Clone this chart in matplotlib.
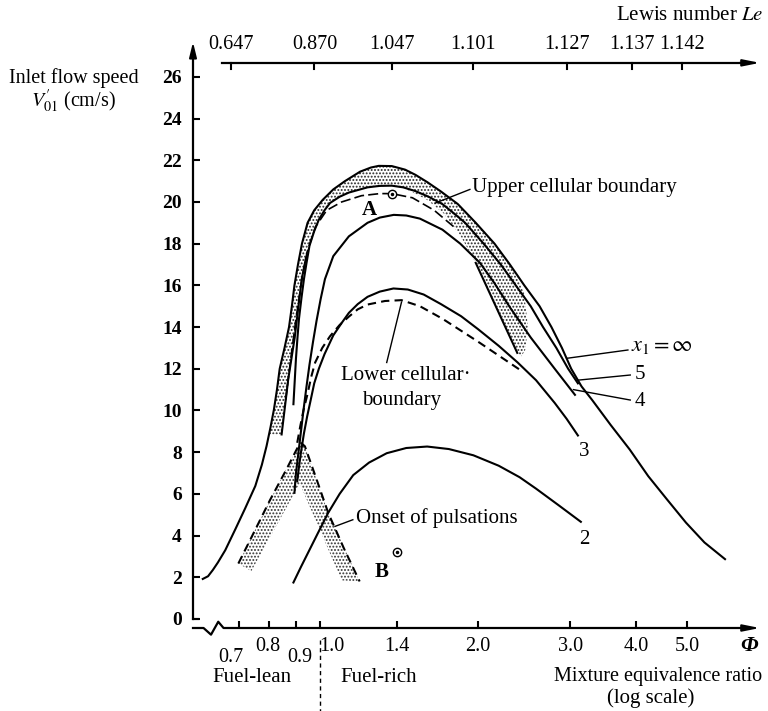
import matplotlib
matplotlib.use("Agg")
import matplotlib.pyplot as plt
from matplotlib.ticker import NullLocator

# ---- values (phi = equivalence ratio, v = inlet speed cm/s)
phi_inf = [0.598, 0.612, 0.625, 0.639, 0.66, 0.69, 0.72, 0.753, 0.775, 0.791,
           0.805, 0.817, 0.828, 0.838, 0.856, 0.873, 0.884, 0.894, 0.908, 0.924,
           0.947, 0.975, 1.012, 1.06, 1.116, 1.192, 1.25, 1.294, 1.37, 1.452,
           1.52, 1.601, 1.70, 1.83, 1.98, 2.15, 2.30, 2.45, 2.62, 2.76, 2.89,
           3.01, 3.15, 3.30, 3.58, 3.89, 4.22, 4.58, 4.98, 5.40, 5.91]
v_inf = [1.92, 2.05, 2.35, 2.71, 3.3, 4.31, 5.3, 6.38, 7.4, 8.29,
         9.2, 10.04, 11.0, 12.0, 13.0, 14.0, 15.0, 16.0, 17.0, 18.0,
         19.0, 19.6, 20.1, 20.6, 21.0, 21.45, 21.65, 21.73, 21.72, 21.55,
         21.3, 20.95, 20.5, 19.9, 19.0, 18.0, 17.0, 16.0, 15.0, 14.0, 13.0,
         12.0, 11.15, 10.5, 9.3, 8.13, 6.85, 5.74, 4.62, 3.67, 2.87]

phi_5 = [0.89, 0.895, 0.90, 0.906, 0.912, 0.922, 0.932, 0.943, 0.955, 0.975,
         0.995, 1.02, 1.045, 1.09, 1.135, 1.232, 1.30, 1.37, 1.44, 1.52,
         1.61, 1.71, 1.80, 1.89, 2.05, 2.21, 2.36, 2.52, 2.66, 2.82, 2.97, 3.10]
v_5 = [10.3, 11.4, 12.5, 13.5, 14.4, 15.4, 16.3, 17.1, 17.9, 18.6,
       19.15, 19.6, 19.95, 20.25, 20.45, 20.7, 20.77, 20.78, 20.7, 20.52,
       20.25, 19.9, 19.45, 19.0, 18.0, 17.0, 16.0, 15.0, 14.0, 13.0, 12.0, 11.3]

phi_4 = [0.894, 0.90, 0.91, 0.92, 0.93, 0.942, 0.955, 0.97, 0.985, 1.003,
         1.022, 1.06, 1.135, 1.232, 1.30, 1.382, 1.46, 1.55, 1.711, 1.85,
         2.017, 2.15, 2.30, 2.52, 2.80, 3.06]
v_4 = [6.05, 7.0, 8.0, 9.0, 10.0, 11.1, 12.2, 13.3, 14.3, 15.35,
       16.3, 17.4, 18.35, 19.0, 19.25, 19.38, 19.35, 19.2, 18.67, 18.0,
       17.08, 16.1, 14.95, 13.5, 12.0, 10.75]

phi_3 = [0.905, 0.912, 0.92, 0.932, 0.945, 0.96, 0.975, 0.995, 1.02, 1.06,
         1.10, 1.135, 1.18, 1.232, 1.30, 1.38, 1.47, 1.576, 1.70, 1.857,
         2.0, 2.19, 2.38, 2.58, 2.80, 2.95, 3.10]
v_3 = [6.6, 7.3, 8.0, 8.9, 9.7, 10.5, 11.3, 12.0, 12.7, 13.6,
       14.2, 14.68, 15.1, 15.45, 15.7, 15.85, 15.8, 15.56, 15.1, 14.52,
       13.9, 13.1, 12.3, 11.45, 10.36, 9.6, 8.8]

phi_2 = [0.89, 0.92, 0.95, 0.99, 1.037, 1.09, 1.157, 1.24, 1.34, 1.46,
         1.6, 1.76, 1.96, 2.19, 2.40, 2.58, 2.85, 3.14]
v_2 = [1.75, 2.5, 3.2, 4.1, 5.1, 6.0, 6.9, 7.5, 7.95, 8.2,
       8.27, 8.15, 7.85, 7.35, 6.8, 6.25, 5.45, 4.66]

# lower cellular boundary (dashed)
phi_low = [0.905, 0.917, 0.93, 0.947, 0.962, 0.979, 1.01, 1.045, 1.09, 1.135,
           1.18, 1.232, 1.33, 1.43, 1.55, 1.711, 1.85, 2.0, 2.2, 2.42]
v_low = [8.45, 9.24, 10.0, 10.8, 11.6, 12.3, 13.0, 13.56, 14.1, 14.5,
         14.85, 15.08, 15.25, 15.29, 15.0, 14.4, 13.85, 13.3, 12.6, 11.9]

# upper cellular boundary, experimental dashes
phi_up = [0.86, 0.88, 0.90, 0.92, 0.945, 0.98, 1.03, 1.1, 1.2, 1.3, 1.37, 1.5, 1.65, 1.8]
v_up = [10.5, 12.5, 14.4, 16.0, 17.6, 18.8, 19.6, 20.0, 20.3, 20.4, 20.4, 20.2, 19.6, 18.8]

# stippled band of the upper cellular boundary
band_phi = [0.80, 0.805, 0.817, 0.828, 0.838, 0.856, 0.873, 0.884, 0.894, 0.908,
            0.924, 0.947, 0.975, 1.012, 1.06, 1.116, 1.192, 1.25, 1.294, 1.37,
            1.452, 1.52, 1.601, 1.70, 1.83, 1.98, 2.15, 2.30, 2.37, 2.45,
            2.49, 2.46, 2.42, 2.376, 2.2, 1.98, 1.85, 1.72, 1.60, 1.45,
            1.37, 1.232, 1.135, 1.045, 0.995, 0.955, 0.94, 0.923, 0.895, 0.87,
            0.845]
band_v = [8.85, 9.2, 10.04, 11.0, 12.0, 13.0, 14.0, 15.0, 16.0, 17.0,
          18.0, 19.0, 19.6, 20.1, 20.6, 21.0, 21.45, 21.65, 21.73, 21.72,
          21.55, 21.3, 20.95, 20.5, 19.9, 19.0, 18.0, 17.0, 16.5, 15.6,
          14.0, 12.9, 12.6, 12.76, 14.7, 17.08, 18.4, 19.45, 20.1, 20.65,
          20.78, 20.7, 20.45, 19.95, 19.15, 17.9, 17.3, 16.3, 13.5, 11.5,
          8.85]
band_edge_phi = [0.845, 0.87, 0.895, 0.923, 0.94]
band_edge_v = [8.85, 11.5, 13.5, 16.3, 17.3]
band_tail_phi = [1.98, 2.376]
band_tail_v = [17.08, 12.76]

# onset of pulsations
puls_left_phi = [0.699, 0.75, 0.803, 0.86, 0.909, 0.92]
puls_left_v = [2.66, 4.2, 5.7, 7.1, 8.28, 8.45]
puls_right_phi = [0.92, 0.936, 0.985, 1.037, 1.11, 1.19]
puls_right_v = [8.45, 8.28, 6.7, 5.08, 3.4, 1.8]
puls_band_phi = [0.699, 0.803, 0.909, 0.92, 0.936, 1.037, 1.19, 1.10, 0.915, 0.74]
puls_band_v = [2.66, 5.7, 8.28, 8.45, 8.28, 5.08, 1.8, 1.85, 6.5, 2.3]

point_a = (1.37, 20.38)
point_b = (1.404, 3.19)

y_ticks = list(range(0, 27, 2))
x_ticks = [0.7, 0.8, 0.9, 1.0, 1.4, 2.0, 3.0, 4.0, 5.0]
x_labels = ["0.7", "0.8", "0.9", "1.0", "1.4", "2.0", "3.0", "4.0", "5.0"]
lewis_phi = [0.676, 0.976, 1.37, 1.96, 2.95, 3.93, 4.89]
lewis_labels = ["0.647", "0.870", "1.047", "1.101", "1.127", "1.137", "1.142"]

plt.rcParams['font.family'] = ['Liberation Serif', 'DejaVu Serif']
plt.rcParams['mathtext.fontset'] = 'stix'
plt.rcParams['hatch.linewidth'] = 0.9

W, H = 768, 711
fig = plt.figure(figsize=(W / 100, H / 100), dpi=100)
ax = fig.add_axes([193 / W, (H - 628) / H, (760 - 193) / W, (628 - 42) / H])
ax.set_xscale('log')
x_min, x_max = 0.5729, 6.89
y_min, y_max = -0.432, 27.67
ax.set_xlim(x_min, x_max)
ax.set_ylim(y_min, y_max)
for s in ax.spines.values():
    s.set_visible(False)

FS = 15
lw = 1.5
k = 'black'

# axes drawn by hand
ax.plot([x_min, x_min], [0, y_max - 0.6], color=k, lw=1.6, clip_on=False)
ax.annotate('', xy=(x_min, y_max), xytext=(x_min, y_max - 1.2),
            arrowprops=dict(arrowstyle='-|>,head_length=0.9,head_width=0.22',
                            color=k, lw=1.4, shrinkA=0, shrinkB=0),
            annotation_clip=False)
ax.plot([x_min, 0.60, 0.62, 0.64, 0.655, 6.5], [y_min, y_min, y_min - 0.32,
        y_min + 0.3, y_min, y_min], color=k, lw=1.6, clip_on=False)
ax.annotate('', xy=(x_max, y_min), xytext=(6.3, y_min),
            arrowprops=dict(arrowstyle='-|>,head_length=1.0,head_width=0.2',
                            color=k, lw=1.4, shrinkA=0, shrinkB=0),
            annotation_clip=False)

ax.set_yticks(y_ticks)
ax.set_yticklabels([str(t) for t in y_ticks], fontsize=FS - 1, fontweight='bold')
ax.tick_params(axis='y', direction='in', length=5, width=1.5, pad=8)
ax.set_xticks(x_ticks)
ax.set_xticklabels([''] * len(x_ticks))
ax.xaxis.set_minor_locator(NullLocator())
ax.tick_params(axis='x', direction='in', length=5, width=1.5)
# small tick at the foot of the y axis
ax.plot([x_min, x_min * 1.02], [0, 0], color=k, lw=1.5, clip_on=False)

label_pos = {"0.7": (0.677, -1.85), "0.9": (0.914, -1.85), "0.8": (0.797, -1.3),
             "1.0": (1.054, -1.3)}
for t, lab in zip(x_ticks, x_labels):
    px, py = label_pos.get(lab, (t, -1.3))
    ax.text(px, py, lab, ha='center', va='center', fontsize=FS - 0.5, clip_on=False)
ax.text(6.57, -1.3, 'Φ', ha='center', va='center', fontsize=FS + 1,
        fontstyle='italic', fontweight='bold', clip_on=False)
ax.plot([1.0, 1.0], [-1.0, -4.5], color=k, lw=1.0, ls=(0, (3, 2.5)), clip_on=False)

# top Lewis number axis
top_v = 26.67
ax.plot([0.651, 6.5], [top_v, top_v], color=k, lw=1.6, clip_on=False)
ax.annotate('', xy=(x_max, top_v), xytext=(6.3, top_v),
            arrowprops=dict(arrowstyle='-|>,head_length=1.0,head_width=0.2',
                            color=k, lw=1.4, shrinkA=0, shrinkB=0),
            annotation_clip=False)
for p, lab in zip(lewis_phi, lewis_labels):
    ax.plot([p, p], [top_v, top_v - 0.3], color=k, lw=1.5, clip_on=False)
    ax.text(p, 27.55, lab, ha='center', va='center', fontsize=FS - 0.5, clip_on=False)

# stippled regions
ax.fill(band_phi, band_v, facecolor='none', edgecolor='0.15', hatch='.....', lw=0)
ax.fill(puls_band_phi, puls_band_v, facecolor='none', edgecolor='0.2',
        hatch='.....', lw=0)

# curves
ax.plot(phi_inf, v_inf, color=k, lw=lw)
ax.plot(phi_5, v_5, color=k, lw=lw)
ax.plot(phi_4, v_4, color=k, lw=lw)
ax.plot(phi_3, v_3, color=k, lw=lw)
ax.plot(phi_2, v_2, color=k, lw=lw)
ax.plot(band_edge_phi, band_edge_v, color=k, lw=lw)
ax.plot(band_tail_phi, band_tail_v, color=k, lw=lw)
ax.plot(phi_low, v_low, color=k, lw=lw, ls=(0, (4, 2.5)))
ax.plot(phi_up, v_up, color=k, lw=1.2, ls=(0, (6, 2.5)))
ax.plot(puls_left_phi, puls_left_v, color=k, lw=lw, ls=(0, (4, 2.5)))
ax.plot(puls_right_phi, puls_right_v, color=k, lw=lw, ls=(0, (4, 2.5)))

for pt in (point_a, point_b):
    ax.plot(*pt, marker='o', ms=6, mfc='white', mec=k, mew=1.0)
    ax.plot(*pt, marker='o', ms=1.5, color=k)

# annotations
ax.text(1.24, 19.6, 'A', ha='center', va='center', fontsize=FS, fontweight='bold')
ax.text(1.31, 2.27, 'B', ha='center', va='center', fontsize=FS, fontweight='bold')
ax.text(1.95, 20.67, 'Upper cellular boundary', ha='left', va='center', fontsize=FS)
ax.plot([1.93, 1.66], [20.6, 19.95], color=k, lw=1.0)
ax.text(1.46, 11.7, 'Lower cellular·', ha='center', va='center', fontsize=FS)
ax.text(1.43, 10.5, 'boundary', ha='center', va='center', fontsize=FS)
ax.plot([1.43, 1.34], [15.2, 12.3], color=k, lw=1.0)
ax.text(1.17, 4.84, 'Onset of pulsations', ha='left', va='center', fontsize=FS)
ax.plot([1.155, 1.068], [4.76, 4.44], color=k, lw=1.0)
ax.text(3.92, 13.08, r'$x_1 = \infty$', ha='left', va='center', fontsize=FS + 1)
ax.plot([3.86, 2.95], [12.9, 12.5], color=k, lw=1.0)
ax.text(3.98, 11.71, '5', ha='left', va='center', fontsize=FS)
ax.plot([3.9, 3.09], [11.7, 11.45], color=k, lw=1.0)
ax.text(3.98, 10.44, '4', ha='left', va='center', fontsize=FS)
ax.plot([3.9, 3.04], [10.5, 11.0], color=k, lw=1.0)
ax.text(3.18, 8.05, '3', ha='center', va='center', fontsize=FS)
ax.text(3.19, 3.83, '2', ha='center', va='center', fontsize=FS)

# outer texts
fig.text(74 / W, 1 - 78 / H, 'Inlet flow speed', ha='center', va='center',
         fontsize=FS - 0.5)
fig.text(73 / W, 1 - 101 / H, r"$V^{\prime}_{01}$ (cm/s)", ha='center', va='center',
         fontsize=FS - 0.5)
fig.text(763 / W, 1 - 15 / H, r'Lewis number $\mathit{Le}$', ha='right', va='center',
         fontsize=FS)
fig.text(252 / W, 1 - 678 / H, 'Fuel-lean', ha='center', va='center', fontsize=FS)
fig.text(379 / W, 1 - 678 / H, 'Fuel-rich', ha='center', va='center', fontsize=FS)
fig.text(762 / W, 1 - 677 / H, 'Mixture equivalence ratio', ha='right', va='center',
         fontsize=FS - 0.5)
fig.text(651 / W, 1 - 698 / H, '(log scale)', ha='center', va='center', fontsize=FS)

fig.savefig('out.png', dpi=100)
